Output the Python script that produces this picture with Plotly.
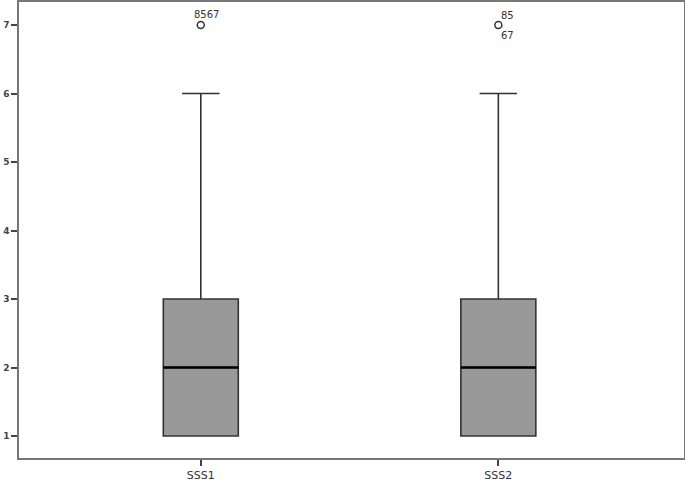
import plotly.graph_objects as go

categories = ["SSS1", "SSS2"]
q1_vals = [1, 1]
median_vals = [2, 2]
q3_vals = [3, 3]
lower_vals = [1, 1]
upper_vals = [6, 6]
outlier_vals = [7, 7]
outlier_labels = [["8567"], ["85", "67"]]
y_ticks = [1, 2, 3, 4, 5, 6, 7]

xpos = list(range(len(categories)))
box_w = 0.252

fig = go.Figure()
for i, c in enumerate(categories):
    fig.add_trace(go.Box(
        x=[xpos[i]], q1=[q1_vals[i]], median=[median_vals[i]], q3=[q3_vals[i]],
        lowerfence=[lower_vals[i]], upperfence=[upper_vals[i]],
        width=box_w, whiskerwidth=0.5,
        fillcolor="#999999", line=dict(color="#333333", width=1.6),
        boxpoints=False, showlegend=False, hoverinfo="skip"))
    # median line in black
    fig.add_trace(go.Scatter(
        x=[xpos[i] - box_w / 2, xpos[i] + box_w / 2],
        y=[median_vals[i], median_vals[i]], mode="lines",
        line=dict(color="black", width=2.5), showlegend=False, hoverinfo="skip"))

fig.add_trace(go.Scatter(
    x=xpos, y=outlier_vals, mode="markers",
    marker=dict(symbol="circle-open", size=7, color="#333333", line=dict(width=1.5)),
    showlegend=False, hoverinfo="skip"))

lab_font = dict(family="DejaVu Sans", size=10, color="#333333")
for i, labs in enumerate(outlier_labels):
    if len(labs) == 1:
        fig.add_annotation(x=xpos[i], y=outlier_vals[i], text=labs[0], showarrow=False,
                           xshift=6, yshift=11, font=lab_font)
    else:
        fig.add_annotation(x=xpos[i], y=outlier_vals[i], text=labs[0], showarrow=False,
                           xshift=9, yshift=10, font=lab_font)
        fig.add_annotation(x=xpos[i], y=outlier_vals[i], text=labs[1], showarrow=False,
                           xshift=9, yshift=-10, font=lab_font)

fig.update_layout(
    width=685, height=488,
    margin=dict(l=19, r=1, t=2, b=30, autoexpand=False),
    plot_bgcolor="white", paper_bgcolor="white",
    xaxis=dict(range=[-0.611, 1.624], tickvals=xpos, ticktext=categories, automargin=False,
               showgrid=False, zeroline=False, showline=True, linecolor="#777777", linewidth=1.5,
               mirror=True, ticks="outside", ticklen=6, tickcolor="#444444", tickwidth=1.5,
               tickfont=dict(family="DejaVu Sans", size=11, color="#333333")),
    yaxis=dict(range=[0.679, 7.336], tickvals=y_ticks, automargin=False,
               showgrid=False, zeroline=False, showline=True, linecolor="#777777", linewidth=1.5,
               mirror=True, ticks="outside", ticklen=6, tickcolor="#444444", tickwidth=1.5,
               tickfont=dict(family="DejaVu Sans", size=9, color="#444444", weight="bold")),
)

fig.write_html("out.html", config={"displayModeBar": False},
               post_script="document.body.style.margin='0';document.body.style.overflow='hidden';")
